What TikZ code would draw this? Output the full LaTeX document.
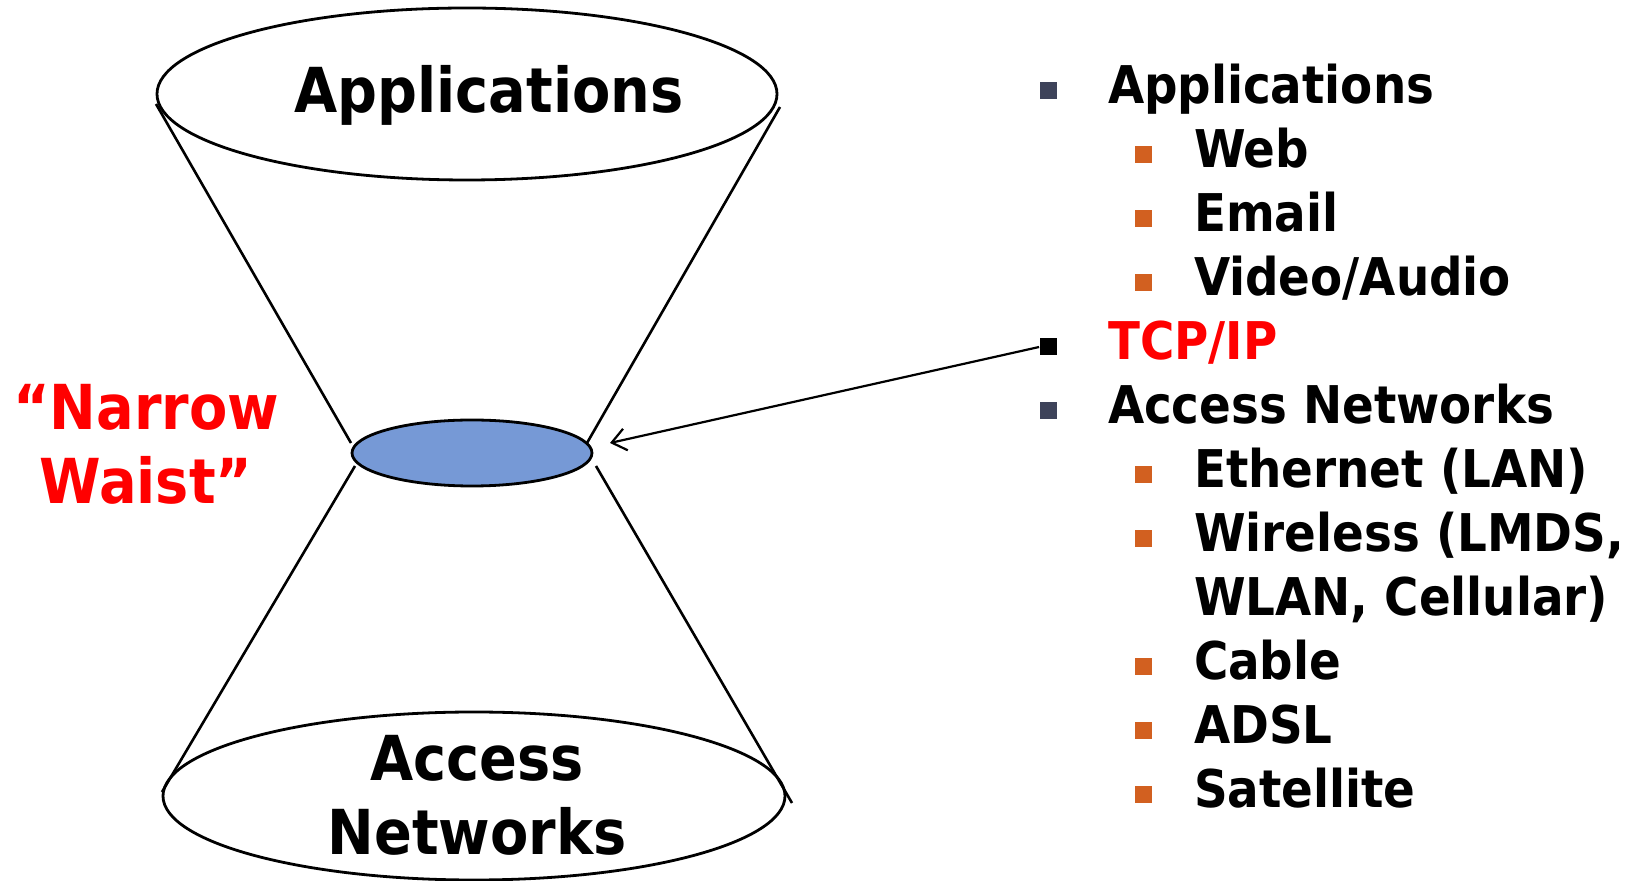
\documentclass[tikz,border=0pt]{standalone}
\usepackage{fontspec}
\setmainfont{DejaVu Sans Condensed}
\usepackage{xcolor}
\definecolor{slate}{RGB}{62,67,90}
\definecolor{rust}{RGB}{210,96,32}
\definecolor{waistblue}{RGB}{118,153,214}
\usepackage{tikz}
\usetikzlibrary{shapes.geometric}
\usetikzlibrary{arrows.meta}

\tikzset{
  hole/.style={draw, ellipse, line width=1.4pt, inner sep=0pt},
  bigtext/.style={anchor=base, align=center, font=\bfseries\fontsize{31}{37}\selectfont},
  itemtext/.style={anchor=base west, align=left, font=\bfseries\fontsize{26}{32}\selectfont},
  topbul/.style={fill=slate, minimum size=8.5pt, inner sep=0pt},
  subbul/.style={fill=rust, minimum size=8.5pt, inner sep=0pt},
}

\begin{document}
\begin{tikzpicture}[x=0.5pt,y=-0.5pt]
\useasboundingbox (0,0) rectangle (1635,881);
% hourglass
\node[hole, minimum width=310pt, minimum height=86pt] (apps) at (467,94) {};
\node[hole, fill=waistblue, minimum width=120pt, minimum height=33pt] (waist) at (472,453) {};
\node[hole, minimum width=311pt, minimum height=84pt] (acc) at (474,796) {};
\draw[line width=1.3pt] (156,104) -- (351,443);
\draw[line width=1.3pt] (780,107) -- (587,443);
\draw[line width=1.3pt] (355,466) -- (162,792);
\draw[line width=1.3pt] (596,466) -- (792,803);
\node[bigtext] (appsT) at (489,113) {Applications};
\node[bigtext] (accT) at (477,855) {Access\\Networks};% base = last line
\node[bigtext, text=red] (nw) at (146,504) {“Narrow\\Waist”};
% list
\node[topbul] (b1) at (1048,91) {};
\node[itemtext] (t1) at (1101,104) {Applications};
\foreach \y/\txt in {168/Web, 232/Email, 296/{Video/Audio}}{
  \node[subbul] at (1143,\y-13) {};
  \node[itemtext] at (1187,\y) {\txt};
}
\node[fill=black, minimum size=8.5pt, inner sep=0pt] (tcpb) at (1048,347) {};
\node[itemtext, text=red] (tcp) at (1101,360) {TCP/IP};
\node[topbul] (b2) at (1048,411) {};
\node[itemtext] (t2) at (1101,424) {Access Networks};
\foreach \y/\txt in {488/{Ethernet (LAN)}, 680/Cable, 744/ADSL, 808/Satellite}{
  \node[subbul] at (1143,\y-13) {};
  \node[itemtext] at (1187,\y) {\txt};
}
\node[subbul] (wb) at (1143,539) {};
\node[itemtext] (wl) at (1187,616) {Wireless (LMDS,\\WLAN, Cellular)};
\coordinate (tip) at (610,443);
\draw[line width=1.1pt, -{Straight Barb[length=7pt,width=11pt]}] (tcpb.west) -- (tip);
\end{tikzpicture}
\end{document}
